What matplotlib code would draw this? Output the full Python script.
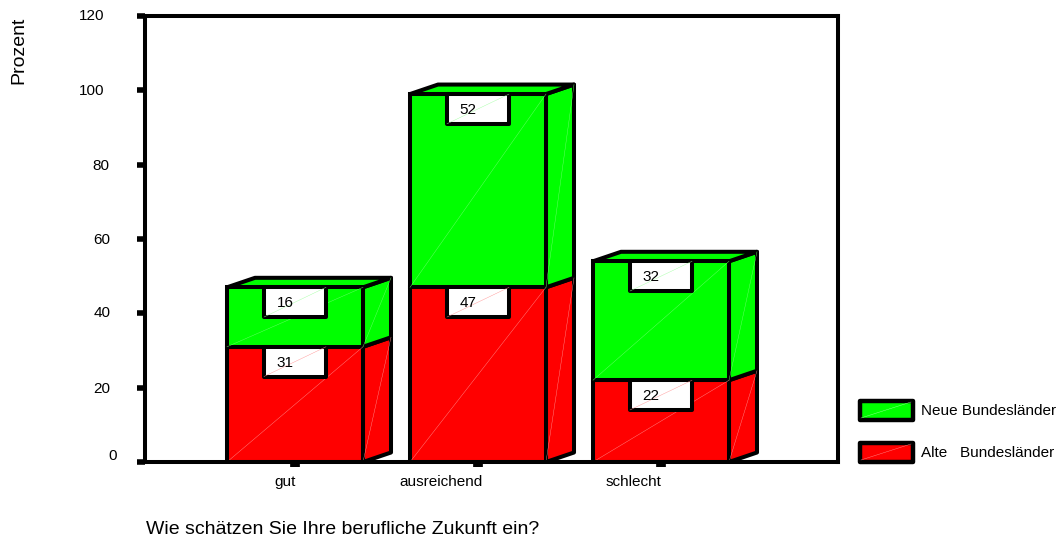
import numpy as np
import matplotlib
matplotlib.use("Agg")
import matplotlib.pyplot as plt
from matplotlib.patches import Polygon, Rectangle
from matplotlib.transforms import ScaledTranslation

plt.rcParams["font.family"] = ["Liberation Sans", "DejaVu Sans"]

categories = ["gut", "ausreichend", "schlecht"]
alte = [31, 47, 22]
neue = [16, 52, 32]
series_names = ["Neue Bundesländer", "Alte   Bundesländer"]
yticks = [0, 20, 40, 60, 80, 100, 120]

W, H = 1061, 541
LEFT, RIGHT, TOP, BOTTOM = 145, 838, 16, 462
STEP = 183.0  # px between categories
X0 = 295.0  # px of first category

RED = "#ff0000"
GREEN = "#00ff00"
LW = 2.9

fig = plt.figure(figsize=(W / 100, H / 100), dpi=100)
ax = fig.add_axes([LEFT / W, 1 - BOTTOM / H, (RIGHT - LEFT) / W, (BOTTOM - TOP) / H])
ax.set_xlim((LEFT - X0) / STEP, (RIGHT - X0) / STEP)
ax.set_ylim(0, 120)

bar_w = 136 / STEP
dx = 28 / STEP
dy = 9.5 / (BOTTOM - TOP) * 120
box_w = 62 / STEP
box_h = 8.0
x = np.arange(len(categories))


def draw_segment(xc, bottom, height, color, line_col):
	l, r = xc - bar_w / 2, xc + bar_w / 2
	top = bottom + height
	ax.bar(xc, height, bar_w, bottom=bottom, color=color, edgecolor="black", linewidth=LW, zorder=3)
	side = [(r, bottom), (r + dx, bottom + dy), (r + dx, top + dy), (r, top)]
	ax.add_patch(Polygon(side, facecolor=color, edgecolor="black", linewidth=LW, joinstyle="round", zorder=2))
	# faint diagonals left by the original rendering
	ax.plot([l, r], [bottom, top], color=line_col, lw=0.3, zorder=4)
	ax.plot([r, r + dx], [bottom, top + dy], color=line_col, lw=0.3, zorder=4)


def draw_label(xc, top, value, color):
	ax.add_patch(Rectangle((xc - box_w / 2, top - box_h), box_w, box_h, facecolor="white",
		edgecolor="black", linewidth=LW, joinstyle="round", zorder=5))
	ax.plot([xc - box_w / 2, xc + box_w / 2], [top - box_h, top], color=color, lw=0.3, zorder=6)
	ax.text(xc - 10 / STEP, top - box_h / 2 - 0.3, str(value), ha="center", va="center", fontsize=11, zorder=7)


for i, xc in enumerate(x):
	draw_segment(xc, 0, alte[i], RED, "#ff9090")
	draw_segment(xc, alte[i], neue[i], GREEN, "#70ff70")
	total = alte[i] + neue[i]
	l, r = xc - bar_w / 2, xc + bar_w / 2
	roof = [(l, total), (l + dx, total + dy), (r + dx, total + dy), (r, total)]
	ax.add_patch(Polygon(roof, facecolor=GREEN, edgecolor="black", linewidth=LW, joinstyle="round", zorder=2))
	draw_label(xc, alte[i], alte[i], "#ff9090")
	draw_label(xc, total, neue[i], "#a0ffa0")

for s in ax.spines.values():
	s.set_linewidth(LW)
	s.set_zorder(8)

ax.set_yticks(yticks)
ax.tick_params(axis="y", length=6, width=4, pad=14, labelsize=11)
# the original labels are not aligned: (x, y) nudges in px per tick
for lab, (ox, oy) in zip(ax.get_yticklabels(), [(0, 7), (-7, 0), (-7, 2), (-7, 0), (-8, 0), (-13, 1), (-13, 1)]):
	lab.set_transform(lab.get_transform() + ScaledTranslation(ox / 100, oy / 100, fig.dpi_scale_trans))

ax.set_xticks(x, categories)
ax.tick_params(axis="x", length=3.5, width=7, pad=6, labelsize=11)
for lab, off in zip(ax.get_xticklabels(), [-10, -37.5, -28]):
	lab.set_transform(lab.get_transform() + ScaledTranslation(off / 100, 0, fig.dpi_scale_trans))

fig.text(19 / W, 1 - 50 / H, "Prozent", rotation=90, ha="center", va="center", fontsize=14)
fig.text(146 / W, 1 - 529 / H, "Wie schätzen Sie Ihre berufliche Zukunft ein?", ha="left", va="center", fontsize=14)

# legend
for name, color, line_col, y_top in zip(series_names, [GREEN, RED], ["#a0ffa0", "#ff9090"], [400, 442]):
	r = Rectangle((859.5 / W, 1 - (y_top + 20) / H), 53 / W, 19 / H, transform=fig.transFigure,
		facecolor=color, edgecolor="black", linewidth=3.2, joinstyle="round")
	fig.add_artist(r)
	fig.add_artist(plt.Line2D([861 / W, 911 / W], [1 - (y_top + 18) / H, 1 - (y_top + 2) / H],
		color=line_col, lw=0.3))
	fig.text(921 / W, 1 - (y_top + 11) / H, name, ha="left", va="center", fontsize=11)

fig.savefig("out.png", dpi=100)
